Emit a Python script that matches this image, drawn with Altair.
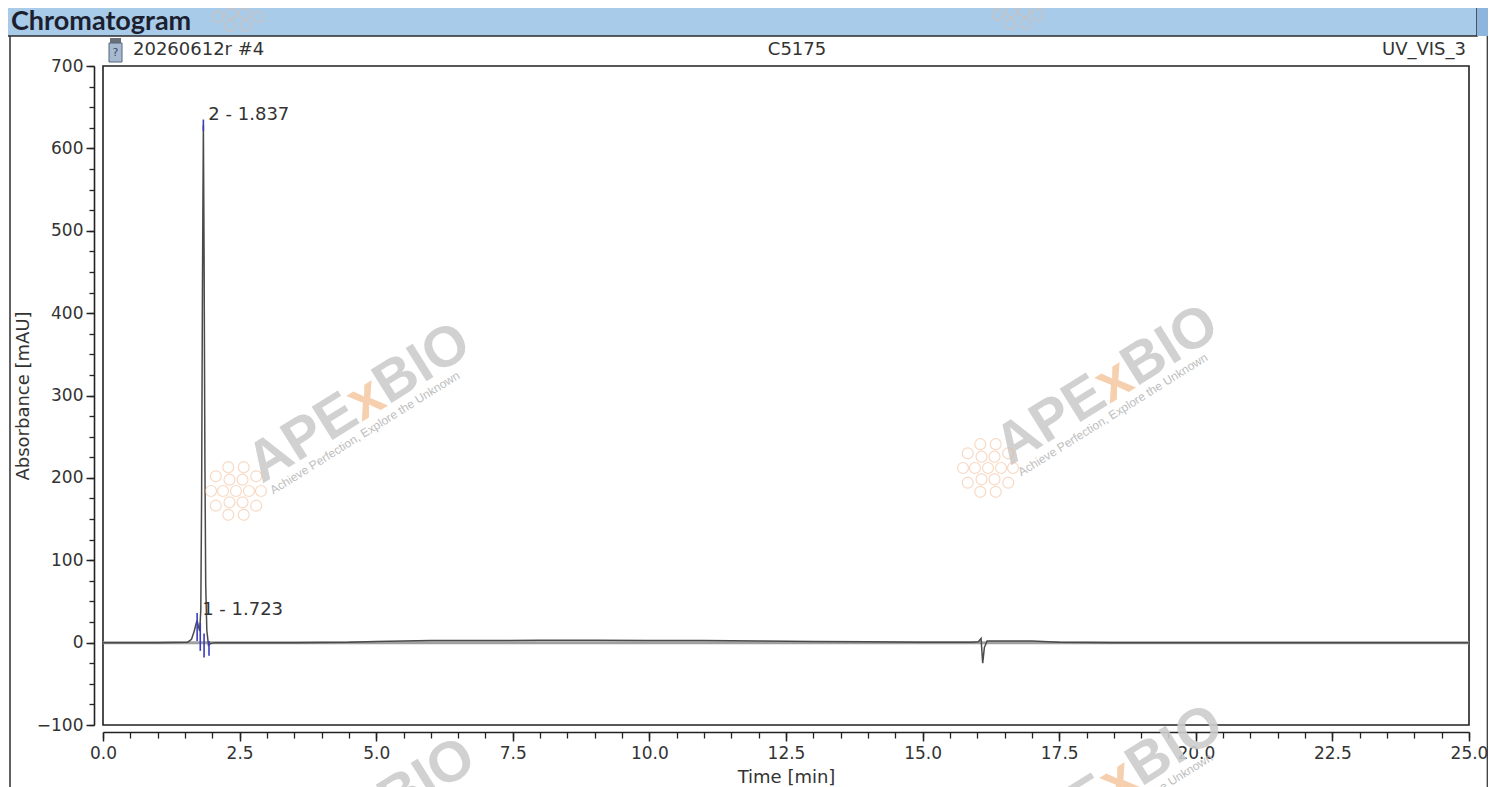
import math
import altair as alt
import pandas as pd

# ---------------- data ----------------
time_min = [0.0, 1.0, 1.55, 1.62, 1.67, 1.70, 1.723, 1.745, 1.77, 1.79, 1.805, 1.82,
            1.837, 1.85, 1.865, 1.88, 1.90, 1.93, 1.97, 2.05, 2.5, 3.5, 4.5, 5.0,
            6.0, 7.0, 8.0, 9.0, 10.0, 11.0, 12.0, 13.0, 14.0, 15.0, 15.9, 16.02,
            16.07, 16.10, 16.13, 16.18, 16.3, 17.0, 17.5, 18.5, 20.0, 22.5, 25.0]
absorbance = [0, 0, 0.5, 4, 14, 22, 27, 20, 14, 40, 180, 430,
              628, 470, 220, 70, 15, -3, -1, 0, 0, 0, 0.5, 1.5,
              2.5, 2.5, 3, 3, 2.5, 2.5, 2, 1.5, 1, 0.5, 0.5, 1,
              5, -25, -6, 2, 2, 2, 0.5, 0, 0, 0, 0]

peak_times = [1.723, 1.837]
peak_heights = [27, 628]
peak_labels = ["1 - 1.723", "2 - 1.837"]

marker_t = [1.723, 1.837, 1.78, 1.85, 1.94]
marker_lo = [2, 621, -10, -18, -16]
marker_hi = [36, 635, 24, 11, 2]

x_major = [0, 2.5, 5, 7.5, 10, 12.5, 15, 17.5, 20, 22.5, 25]
x_minor = [i * 0.5 for i in range(51)]
y_major = [-100, 0, 100, 200, 300, 400, 500, 600, 700]
y_minor = [-100 + 25 * i for i in range(33)]

sample_name = "20260612r #4"
sample_id = "C5175"
channel = "UV_VIS_3"
panel_title = "Chromatogram"

# ---------------- layout (pixels) ----------------
W, H = 1366, 659
PAD_L, PAD_T = 95, 58
SVG_W, SVG_H = 1480, 779
OX, OY = 8 + PAD_L, 8 + PAD_T          # page position of plot origin
XD, YD = [0, 25], [-100, 700]
SX = W / (XD[1] - XD[0])
SY = H / (YD[1] - YD[0])
FONT = "DejaVu Sans"


def to_t(px):
    return XD[0] + (px - OX) / SX


def to_v(py):
    return YD[1] - (py - OY) / SY


trace = pd.DataFrame({"t": time_min, "a": absorbance})
peaks = pd.DataFrame({"t": peak_times, "a": peak_heights, "label": peak_labels})
markers = pd.DataFrame({"t": marker_t, "lo": marker_lo, "hi": marker_hi})
one = pd.DataFrame({"k": [0]})

xs = alt.Scale(domain=XD, nice=False, zero=False)
ys = alt.Scale(domain=YD, nice=False, zero=False)


def X(field):
    return alt.X(field, scale=xs, axis=None)


def Y(field):
    return alt.Y(field, scale=ys, axis=None)


x_axis = alt.Axis(values=x_major, format=".1f", tickSize=9, tickWidth=1.5, tickColor="#222",
                  domainColor="#222", domainWidth=1.6, offset=7, labelFont=FONT,
                  labelFontSize=17, labelColor="#333", labelPadding=4, labelFlush=False,
                  grid=False, title="Time [min]", titleFont=FONT, titleFontSize=18,
                  titleFontWeight="normal", titleColor="#333", titlePadding=7, orient="bottom")
y_axis = alt.Axis(values=y_major, format="d", tickSize=8, tickWidth=1.5, tickColor="#222",
                  domainColor="#222", domainWidth=1.6, offset=9, labelFont=FONT,
                  labelFontSize=17, labelColor="#333", labelPadding=3, labelFlush=False,
                  grid=False, title="Absorbance [mAU]", titleFont=FONT, titleFontSize=18,
                  titleFontWeight="normal", titleColor="#333", titlePadding=4, orient="left")

base_rule = alt.Chart(pd.DataFrame({"a": [0]})).mark_rule(color="#a0a0a0", strokeWidth=3).encode(
    x=alt.value(0), x2=alt.value(W), y=Y("a:Q"))

line = alt.Chart(trace).mark_line(color="#4a4a4a", strokeWidth=1.5).encode(
    x=alt.X("t:Q", scale=xs, axis=x_axis),
    y=alt.Y("a:Q", scale=ys, axis=y_axis),
    order="t:Q")

minor = alt.Chart(pd.DataFrame({"t": [0], "a": [0]})).mark_point(opacity=0).encode(
    x=alt.X("t:Q", scale=xs, axis=alt.Axis(values=x_minor, labels=False, domain=False, grid=False,
                                          tickSize=6, tickWidth=1.3, tickColor="#222", offset=7,
                                          title=None, orient="bottom")),
    y=alt.Y("a:Q", scale=ys, axis=alt.Axis(values=y_minor, labels=False, domain=False, grid=False,
                                          tickSize=5, tickWidth=1.3, tickColor="#222", offset=9,
                                          title=None, orient="left")))

mark_rules = alt.Chart(markers).mark_rule(color="#3d3dbb", strokeWidth=1.6).encode(
    x=X("t:Q"), y=Y("lo:Q"), y2="hi:Q")

peak_text = alt.Chart(peaks).mark_text(align="left", baseline="middle", dx=5, dy=-10,
                                       font=FONT, fontSize=18, color="#333").encode(
    x=X("t:Q"), y=Y("a:Q"), text="label:N")

# ---------------- frame / header decoration ----------------
header = alt.Chart(one).mark_rect(fill="#a8cbea", stroke="#2b2b2b", strokeWidth=1.5).encode(
    x=alt.value(5 - OX), x2=alt.value(1477 - OX), y=alt.value(5 - OY), y2=alt.value(36 - OY))
header_end = alt.Chart(one).mark_rect(fill="#8db6df").encode(
    x=alt.value(1477 - OX), x2=alt.value(1496 - OX), y=alt.value(5 - OY), y2=alt.value(36 - OY))
header_text = alt.Chart(one).mark_text(align="left", baseline="middle", font="Lato",
                                       fontWeight="bold", fontSize=27, color="#1c1f2e").encode(
    x=alt.value(11 - OX), y=alt.value(22 - OY), text=alt.value(panel_title))
left_border = alt.Chart(one).mark_rule(color="#3a3a3a", strokeWidth=1.6).encode(
    x=alt.value(10 - OX), y=alt.value(36 - OY), y2=alt.value(800 - OY))
right_border = alt.Chart(one).mark_rule(color="#3a3a3a", strokeWidth=1.3).encode(
    x=alt.value(1487.3 - OX), y=alt.value(36 - OY), y2=alt.value(800 - OY))

icon_top = alt.Chart(one).mark_rect(fill="#6b6f78").encode(
    x=alt.value(110 - OX), x2=alt.value(121 - OX), y=alt.value(38 - OY), y2=alt.value(43 - OY))
icon = alt.Chart(one).mark_rect(fill="#a7bad0", stroke="#55657c", strokeWidth=1).encode(
    x=alt.value(109 - OX), x2=alt.value(122 - OX), y=alt.value(43 - OY), y2=alt.value(62 - OY))
icon_q = alt.Chart(one).mark_text(align="center", baseline="middle", font=FONT, fontSize=11,
                                  color="#3b4a66").encode(
    x=alt.value(115.5 - OX), y=alt.value(53 - OY), text=alt.value("?"))

row_font = dict(font=FONT, fontSize=18, color="#333", baseline="middle")
t_left = alt.Chart(one).mark_text(align="left", **row_font).encode(
    x=alt.value(133 - OX), y=alt.value(50 - OY), text=alt.value(sample_name))
t_mid = alt.Chart(one).mark_text(align="center", **row_font).encode(
    x=alt.value(797 - OX), y=alt.value(50 - OY), text=alt.value(sample_id))
t_right = alt.Chart(one).mark_text(align="right", **row_font).encode(
    x=alt.value(1466 - OX), y=alt.value(50 - OY), text=alt.value(channel))

# ---------------- watermarks (decoration) ----------------
ANG = 32.0
dx_, dy_ = math.cos(math.radians(ANG)), -math.sin(math.radians(ANG))
px_, py_ = math.sin(math.radians(ANG)), math.cos(math.radians(ANG))
WM_SIZE = 57
wm_origins = [(262, 484), (1010, 466), (267, 899), (1015, 866)]
pieces = [("APE", 0.0, "#cdcdcd"), ("x", 2.056, "#f6cba6"), ("BIO", 2.612, "#cdcdcd")]
big_rows, sub_rows = [], []
for ox, oy in wm_origins:
    for txt, adv, col in pieces:
        gx, gy = ox + adv * WM_SIZE * dx_, oy + adv * WM_SIZE * dy_
        big_rows.append({"t": to_t(gx), "a": to_v(gy), "txt": txt, "col": col})
    sx_, sy_ = ox + 4 * dx_ + 15 * px_, oy + 4 * dy_ + 15 * py_
    sub_rows.append({"t": to_t(sx_), "a": to_v(sy_), "txt": "Achieve Perfection, Explore the Unknown"})

wm_big = alt.Chart(pd.DataFrame(big_rows)).mark_text(
    align="left", baseline="alphabetic", angle=360 - ANG, font="Liberation Sans",
    fontWeight="bold", fontSize=WM_SIZE, opacity=0.9).encode(
    x=X("t:Q"), y=Y("a:Q"), text="txt:N", color=alt.Color("col:N", scale=None))
wm_sub = alt.Chart(pd.DataFrame(sub_rows)).mark_text(
    align="left", baseline="alphabetic", angle=360 - ANG, font="Liberation Sans",
    fontSize=12, color="#bdbdbd").encode(x=X("t:Q"), y=Y("a:Q"), text="txt:N")

flower_dx = [0, 13, 6.5, -6.5, -13, -6.5, 6.5, 25, 20.2, 7.7, -7.7, -20.2, -25, -20.2, -7.7, 7.7, 20.2]
flower_dy = [0, 0, 11.3, 11.3, 0, -11.3, -11.3, 0, 14.7, 23.8, 23.8, 14.7, 0, -14.7, -23.8, -23.8, -14.7]
flower_centres = [(236, 491), (988, 468), (238, 2), (1018, 0)]
fl_rows = []
for cx, cy in flower_centres:
    for fx, fy in zip(flower_dx, flower_dy):
        fl_rows.append({"t": to_t(cx + fx), "a": to_v(cy + fy)})
flowers = alt.Chart(pd.DataFrame(fl_rows)).mark_point(
    shape="circle", filled=False, size=120, stroke="#f1b68c", strokeWidth=1.2, opacity=0.5).encode(
    x=X("t:Q"), y=Y("a:Q"))

chart = alt.layer(
    header, header_end, header_text, left_border, right_border,
    icon_top, icon, icon_q, t_left, t_mid, t_right,
    base_rule, line, minor, mark_rules, peak_text,
    wm_big, wm_sub, flowers,
).resolve_axis(x="independent", y="independent").properties(
    width=W, height=H,
    autosize=alt.AutoSizeParams(type="none"),
    padding={"left": PAD_L, "top": PAD_T, "right": SVG_W - PAD_L - W, "bottom": SVG_H - PAD_T - H},
    background="white",
).configure_view(stroke="#222", strokeWidth=1.6)

chart.save("out.html", embed_options={"renderer": "svg", "actions": False})
